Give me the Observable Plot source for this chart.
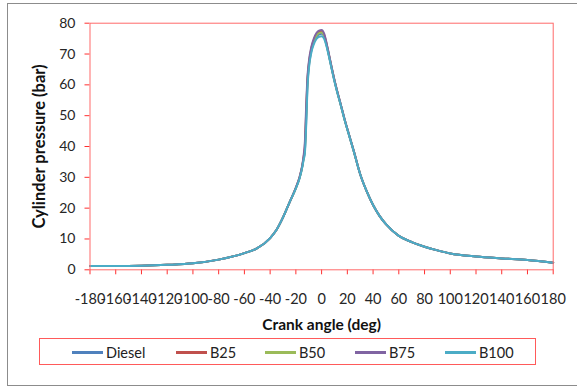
<!DOCTYPE html>
<html>
<head>
<meta charset="utf-8">
<script src="https://cdn.jsdelivr.net/npm/d3@7"></script>
<script src="https://cdn.jsdelivr.net/npm/@observablehq/plot@0.6"></script>
<style>
  html, body { margin: 0; padding: 0; background: #fff; }
  #chart { position: relative; width: 577px; height: 387px; overflow: hidden; font-family: Lato, "Open Sans", sans-serif; }
  #outer { position: absolute; left: 7px; top: 3px; width: 600px; height: 381px; border: 1px solid #8c8c8c; }
  #plot { position: absolute; left: 0; top: 0; }
  #legend { position: absolute; left: 39px; top: 338px; width: 497px; height: 27px; border: 1px solid #ff5a5a; box-sizing: border-box; }
  .item { position: absolute; top: 0; height: 27px; display: flex; align-items: center; font-size: 14.5px; color: #222; }
  .swatch { width: 31px; height: 2.5px; margin-right: 3px; }
</style>
</head>
<body>
<div id="chart">
  <div id="outer"></div>
  <div id="plot"></div>
  <div id="legend"></div>
</div>
<script>
// Crank angle (deg) at which the cylinder pressure was recorded
const angles = [-180,-160,-140,-120,-100,-80,-60,-50,-40,-35,-30,-25,-20,-17,-15,-14,-13,-12,-11,-10,-8,-6,-4,-2,0,2,4,6,8,10,12,15,18,21,25,30,35,40,45,50,60,70,80,90,100,120,140,160,180];

// Cylinder pressure (bar) for each fuel
const diesel = [1.2,1.2,1.3,1.6,2.1,3.3,5.4,7.0,10.3,13.0,17.0,21.8,26.5,30.0,33.5,36.0,38.5,48.0,60.0,65.5,71.0,73.8,75.5,76.4,76.6,75.6,72.6,68.9,65.0,61.3,58.0,53.3,48.5,44.2,38.5,31.0,25.5,21.0,17.5,14.8,11.0,9.0,7.5,6.3,5.3,4.3,3.7,3.2,2.3];
const b25 =    [1.2,1.2,1.3,1.6,2.1,3.3,5.4,7.0,10.3,13.0,17.0,21.8,26.6,30.2,33.8,36.5,40.0,51.0,61.5,66.5,71.8,74.6,76.3,77.1,77.3,76.2,73.0,69.2,65.2,61.5,58.1,53.4,48.6,44.2,38.5,31.0,25.5,21.0,17.5,14.8,11.0,9.0,7.5,6.3,5.3,4.3,3.7,3.2,2.3];
const b50 =    [1.2,1.2,1.3,1.6,2.1,3.3,5.4,7.0,10.3,13.0,17.0,21.8,26.5,30.0,33.6,36.2,39.0,49.5,60.8,66.0,71.4,74.2,76.0,76.8,77.0,75.9,72.8,69.0,65.1,61.4,58.0,53.3,48.5,44.2,38.5,31.0,25.5,21.0,17.5,14.8,11.0,9.0,7.5,6.3,5.3,4.3,3.7,3.2,2.3];
const b75 =    [1.2,1.2,1.3,1.6,2.1,3.3,5.4,7.0,10.3,13.0,17.0,21.8,26.7,30.3,34.0,37.0,41.5,53.0,62.5,67.2,72.3,75.1,76.8,77.6,77.8,76.6,73.3,69.4,65.4,61.6,58.2,53.5,48.7,44.3,38.6,31.0,25.5,21.0,17.5,14.8,11.0,9.0,7.5,6.3,5.3,4.3,3.7,3.2,2.3];
const b100 =   [1.2,1.2,1.3,1.6,2.1,3.3,5.4,7.0,10.3,13.0,17.0,21.8,26.4,29.8,33.3,35.6,37.8,46.5,58.8,64.8,70.4,73.2,74.9,75.6,75.8,74.9,72.2,68.6,64.8,61.1,57.8,53.2,48.4,44.1,38.4,31.0,25.5,21.0,17.5,14.8,11.0,9.0,7.5,6.3,5.3,4.3,3.7,3.2,2.3];

const fuels = ["Diesel","B25","B50","B75","B100"];
const colors = ["#4F81BD","#C0504D","#9BBB59","#8064A2","#4BACC6"];
const seriesValues = [diesel, b25, b50, b75, b100];

const xTicks = [-180,-160,-140,-120,-100,-80,-60,-40,-20,0,20,40,60,80,100,120,140,160,180];
const yTicks = [0,10,20,30,40,50,60,70,80];

const rows = fuels.flatMap((fuel, i) =>
  angles.map((a, j) => ({fuel, angle: a, pressure: seriesValues[i][j]}))
);

const plot = Plot.plot({
  width: 577,
  height: 335,
  marginLeft: 89.5,
  marginRight: 24.3,
  marginTop: 22.7,
  marginBottom: 65.7,
  style: {fontFamily: "Lato, 'Open Sans', sans-serif", fontSize: "14px", background: "transparent", overflow: "visible"},
  x: {domain: [-180, 180]},
  y: {domain: [0, 80]},
  color: {domain: fuels, range: colors},
  marks: [
    Plot.axisY({ticks: yTicks, tickSize: 5, tickPadding: 9.5, stroke: "#ff3030", fill: "#262626", fontSize: 14, label: null, tickFormat: d => String(d)}),
    Plot.axisX({ticks: xTicks, tickSize: 5, tickPadding: 19, stroke: "#ff3030", fill: "#262626", fontSize: 14.5, label: null, tickFormat: d => String(d)}),
    ...fuels.map(f => Plot.line(rows.filter(r => r.fuel === f), {
      x: "angle", y: "pressure", stroke: "fuel", strokeWidth: 2, curve: "monotone-x"
    })),
    Plot.frame({stroke: "#ff6a6a", strokeWidth: 1}),
    Plot.text(["Cylinder pressure (bar)"], {frameAnchor: "left", textAnchor: "middle", lineAnchor: "middle", dx: -50.5, rotate: -90, fontWeight: "bold", fontSize: 16.5, fill: "#111"}),
    Plot.text(["Crank angle (deg)"], {frameAnchor: "bottom", textAnchor: "middle", lineAnchor: "middle", dy: 55, fontWeight: "bold", fontSize: 15.5, fill: "#111"})
  ]
});
document.getElementById("plot").appendChild(plot);

// Legend row below the plot
const legendX = [32, 136, 225, 315, 405];
const legend = document.getElementById("legend");
fuels.forEach((f, i) => {
  const item = document.createElement("div");
  item.className = "item";
  item.style.left = legendX[i] + "px";
  const sw = document.createElement("span");
  sw.className = "swatch";
  sw.style.background = colors[i];
  item.appendChild(sw);
  item.appendChild(document.createTextNode(f));
  legend.appendChild(item);
});
</script>
</body>
</html>
